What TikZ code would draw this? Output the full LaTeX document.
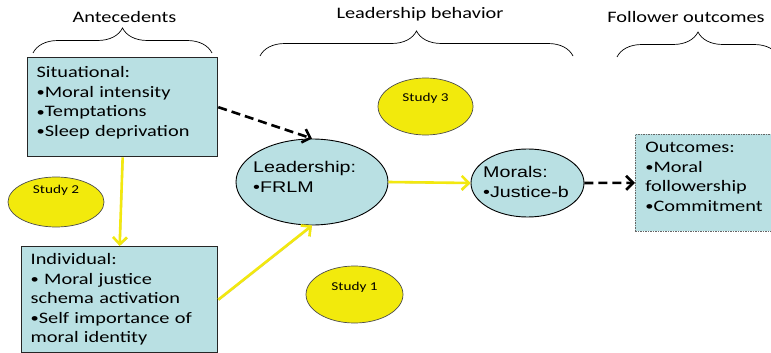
\documentclass[tikz,border=0pt]{standalone}
\usepackage{fontspec}
\setmainfont{Carlito}[FakeStretch=1.27]
\newfontfamily\arialfont{Liberation Sans}[FakeStretch=1.27]
\usepackage{tikz}
\usetikzlibrary{shapes}
\usetikzlibrary{arrows.meta}
\usetikzlibrary{decorations.pathreplacing}

\definecolor{boxblue}{RGB}{185,224,227}
\definecolor{studyyellow}{RGB}{242,234,12}
\definecolor{linkyellow}{RGB}{242,232,16}

\newcommand{\itemdot}{\raisebox{0.6pt}{\fontsize{13pt}{13pt}\selectfont•}}

\begin{document}
\begin{tikzpicture}[x=1pt, y=-1pt,
        >={Straight Barb[length=7pt, width=14pt]},
        heading/.style={font=\fontsize{16pt}{19.5pt}\selectfont, inner sep=0pt, anchor=base},
        factor/.style={draw=black!85, line width=1.3pt, fill=boxblue, rectangle, align=left,
            inner xsep=9pt, inner ysep=0pt, anchor=north west,
            font=\fontsize{16pt}{19.5pt}\selectfont},
        mediator/.style={draw=black, line width=0.9pt, fill=boxblue, ellipse, inner sep=0pt},
        medtext/.style={font=\arialfont\fontsize{15.5pt}{20pt}\selectfont, align=left,
            inner sep=0pt, anchor=north west},
        study/.style={draw=black!70, line width=0.7pt, fill=studyyellow, ellipse, inner sep=0pt,
            font=\fontsize{12pt}{14pt}\selectfont},
        span/.style={decorate, decoration={brace, amplitude=25pt}, line width=0.7pt},
        dashlink/.style={->, line width=2.6pt, dash pattern=on 9pt off 5pt, black},
        yellowlink/.style={->, line width=2.6pt, draw=linkyellow,
            preaction={draw=black!30, transform canvas={shift={(0.8pt,-0.8pt)}}}}]
        \useasboundingbox (0,0) rectangle (771,353);

        % headings over the three columns
        \node[heading] (antecedents) at (124.5,23) {Antecedents};
        \node[heading] (behavior) at (420,19) {Leadership behavior};
        \node[heading] (follower) at (686,23) {Follower outcomes};
        \draw[span] (33,53) -- (212,53);
        \draw[span] (260,56) -- (573,56);
        \draw[span] (617,57) -- (779,57);

        \node[factor, minimum width=190pt, minimum height=99pt, text width=172pt, text depth=70pt]
            (situational) at (27,57) {Situational:\\\itemdot Moral intensity\\\itemdot Temptations\\\itemdot Sleep deprivation};
        \node[factor, minimum width=196pt, minimum height=106pt, text width=178pt]
            (individual) at (21,246) {Individual:\\\itemdot\ Moral justice\\schema activation\\\itemdot Self importance of\\moral identity};
        \node[factor, draw=black!60, line width=0.6pt, dash pattern=on 1.5pt off 1pt,
            inner xsep=10pt, minimum width=150pt, minimum height=97pt, text width=130pt, text depth=70pt]
            (outcomes) at (635,134) {Outcomes:\\\itemdot Moral\\followership\\\itemdot Commitment};

        \node[mediator, minimum width=152pt, minimum height=86pt] (leadership) at (312,182) {};
        \node[medtext] (leadership-text) at (253,161.5) {Leadership:\\•FRLM};
        \node[mediator, minimum width=113pt, minimum height=68pt] (morals) at (527.5,183) {};
        \node[medtext] (morals-text) at (483,166.5) {Morals:\\•Justice-b};

        \node[study, minimum width=95pt, minimum height=57pt, text depth=17.4pt] (study3) at (425.5,106.5) {Study 3};
        \node[study, minimum width=96pt, minimum height=50pt, text depth=24.4pt] (study2) at (56,202) {Study 2};
        \node[study, minimum width=97pt, minimum height=57pt, text depth=15.4pt] (study1) at (354.5,294.5) {Study 1};

        \draw[dashlink] (situational.east) -- (leadership.north);
        \draw[yellowlink] (situational.south) -- (individual.north);
        \draw[yellowlink] (individual.east) -- (leadership.south);
        \draw[yellowlink] (leadership.east) -- (morals.west);
        \draw[dashlink] (morals.east) -- (outcomes.west);
\end{tikzpicture}
\end{document}
